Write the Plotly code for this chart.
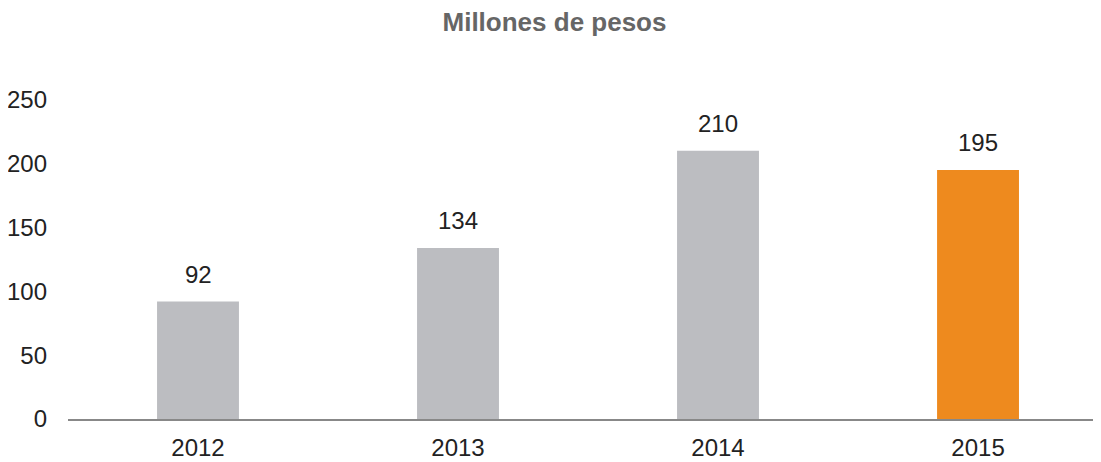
import plotly.graph_objects as go

# ── Data ──────────────────────────────────────────────────────────────────────
years  = ["2012", "2013", "2014", "2015"]
values = [92, 134, 210, 195]
colors = ["#bcbdc1", "#bcbdc1", "#bcbdc1", "#ee8a1e"]
y_ticks = [0, 50, 100, 150, 200, 250]

FONT = "Liberation Sans, Arial, Helvetica, sans-serif"

fig = go.Figure(go.Bar(
    x=years, y=values,
    marker=dict(color=colors, line=dict(width=0)),
    width=0.315,
    hoverinfo="skip",
))

# value labels above bars (x by category index: numeric-looking names get
# read as positions on a category axis)
for i, v in enumerate(values):
    fig.add_annotation(
        x=i, y=v, text=str(v), showarrow=False,
        xref="x", yref="y",
        yanchor="bottom", yshift=12,
        font=dict(family=FONT, size=24, color="#222222"),
    )

# page body adds an 8px margin, so the figure is 8px smaller and shifted
fig.update_layout(
    title=dict(
        text="<b>Millones de pesos</b>", x=0.5, xanchor="center",
        y=1 - 14 / 454, yanchor="middle",
        font=dict(family=FONT, size=26, color="#666666"),
    ),
    width=1093, height=454,
    paper_bgcolor="white", plot_bgcolor="white",
    margin=dict(l=60, r=0, t=79, b=43),
    showlegend=False,
    xaxis=dict(
        type="category", range=[-0.5, 3.473], automargin=False,
        showline=True, linecolor="#888888", linewidth=2,
        showgrid=False, ticks="", ticklabelstandoff=6,
        tickfont=dict(family=FONT, size=24, color="#222222"),
    ),
    yaxis=dict(
        range=[0, 260], tickvals=y_ticks, automargin=False,
        showgrid=False, zeroline=False, showline=False,
        ticks="", ticklabelstandoff=20,
        tickfont=dict(family=FONT, size=24, color="#222222"),
    ),
)

fig.write_html("out.html")
